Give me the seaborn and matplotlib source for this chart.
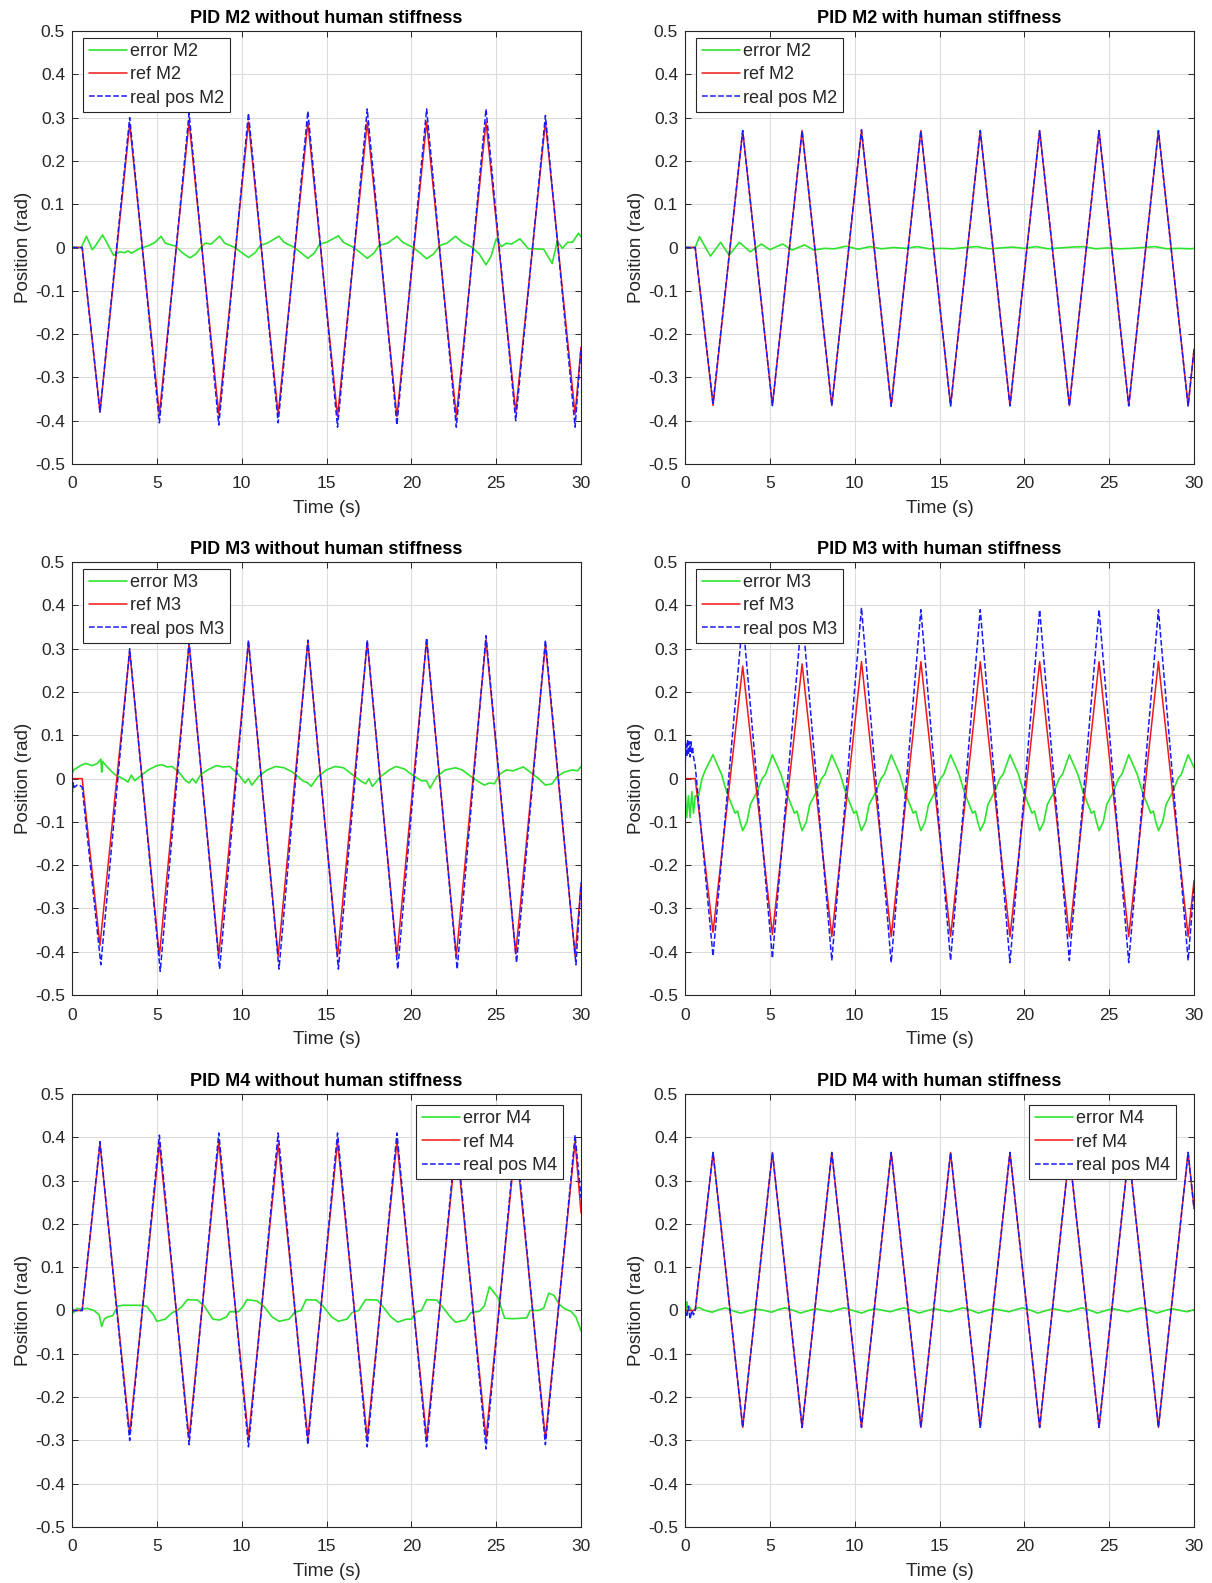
import seaborn as sns
import matplotlib.pyplot as plt

# vertex times of the reference sweep (start, then each trough / peak), shared by all panels
t_ref = [0, 0.6, 1.65, 3.4, 5.15, 6.9, 8.65, 10.4, 12.15, 13.9, 15.65, 17.4,
         19.15, 20.9, 22.65, 24.4, 26.15, 27.9, 29.65, 30]

# ---- M2 without human stiffness
ref_m2_free = [0, 0, -0.38, 0.285, -0.385, 0.29, -0.385, 0.29, -0.385, 0.29, -0.39, 0.29,
               -0.39, 0.29, -0.39, 0.29, -0.38, 0.29, -0.385, -0.23]
real_m2_free = [0, 0, -0.38, 0.30, -0.405, 0.31, -0.41, 0.31, -0.405, 0.315, -0.415, 0.32,
                -0.41, 0.32, -0.415, 0.32, -0.40, 0.305, -0.415, -0.23]
t_err_m2_free = [0, 0.55, 0.85, 1.2, 1.4, 1.8, 2.1, 2.45, 2.8, 3.1, 3.3, 3.5, 4.0, 4.5, 4.9, 5.25,
                 5.5, 6.1, 6.5, 6.95, 7.3, 7.6, 7.85, 8.2, 8.7, 9.0, 9.6, 10.0, 10.4, 10.8, 11.1,
                 11.5, 12.2, 12.5, 13.1, 13.5, 13.9, 14.3, 14.6, 15.0, 15.7, 16.0, 16.6, 17.0,
                 17.4, 17.8, 18.1, 18.6, 19.15, 19.5, 20.1, 20.5, 20.9, 21.3, 21.7, 22.1, 22.6,
                 23.0, 23.6, 24.0, 24.4, 24.7, 25.0, 25.3, 25.6, 25.9, 26.4, 26.9, 27.3, 27.8,
                 28.3, 28.6, 28.9, 29.2, 29.5, 29.85, 30]
err_m2_free = [0, 0, 0.026, -0.005, 0.005, 0.029, 0.008, -0.018, -0.01, -0.012, -0.008, -0.013,
               -0.002, 0.004, 0.012, 0.026, 0.01, 0.003, -0.012, -0.024, -0.015, 0.0, 0.01, 0.008,
               0.026, 0.01, 0.0, -0.012, -0.023, -0.012, 0.005, 0.01, 0.026, 0.012, 0.0, -0.012,
               -0.025, -0.012, 0.008, 0.012, 0.027, 0.012, 0.0, -0.012, -0.025, -0.013, 0.005,
               0.01, 0.026, 0.012, 0.0, -0.012, -0.026, -0.015, 0.005, 0.01, 0.026, 0.012, 0.0,
               -0.015, -0.04, -0.02, 0.02, 0.002, 0.01, 0.008, 0.02, -0.003, -0.003, -0.004,
               -0.037, 0.015, -0.002, 0.012, 0.012, 0.033, 0.025]

# ---- M2 with human stiffness
ref_m2_stiff = [0, 0, -0.365, 0.27, -0.365, 0.27, -0.365, 0.27, -0.365, 0.27, -0.365, 0.27,
                -0.365, 0.27, -0.365, 0.27, -0.365, 0.27, -0.365, -0.235]
real_m2_stiff = [0, 0, -0.36, 0.27, -0.365, 0.27, -0.365, 0.272, -0.367, 0.27, -0.366, 0.27,
                 -0.366, 0.27, -0.366, 0.27, -0.366, 0.27, -0.366, -0.235]
t_err_m2_stiff = [0, 0.6, 0.85, 1.5, 2.1, 2.6, 3.2, 3.85, 4.5, 5.0, 5.75, 6.3, 7.05, 7.6, 8.2,
                  8.8, 9.5, 10.2, 10.9, 11.6, 12.3, 13.0, 13.7, 14.4, 15.1, 15.8, 16.5, 17.2,
                  17.9, 18.6, 19.3, 20.0, 20.7, 21.4, 22.1, 22.8, 23.5, 24.2, 24.9, 25.6, 26.3,
                  27.0, 27.7, 28.4, 29.1, 29.8, 30]
err_m2_stiff = [0, 0, 0.025, -0.02, 0.012, -0.018, 0.012, -0.01, 0.008, -0.005, 0.008, -0.006,
                0.006, -0.006, -0.002, -0.003, 0.003, -0.004, 0.002, -0.003, 0.0, -0.002, 0.002,
                -0.003, -0.002, -0.003, 0.0, 0.002, -0.003, -0.001, 0.001, -0.002, 0.002, -0.003,
                -0.001, 0.001, 0.002, -0.003, -0.001, -0.003, -0.002, 0.0, 0.002, -0.003, -0.002,
                -0.003, -0.002]

# ---- M3 without human stiffness
ref_m3_free = [0, 0, -0.385, 0.295, -0.41, 0.31, -0.41, 0.315, -0.41, 0.315, -0.41, 0.315,
               -0.41, 0.32, -0.41, 0.32, -0.405, 0.31, -0.41, -0.245]
t_real_m3_free = [0, 0.03, 0.08, 0.15, 0.3, 0.45, 0.6, 1.7, 3.4, 5.2, 6.9, 8.7, 10.4, 12.2,
                  13.9, 15.7, 17.4, 19.2, 20.9, 22.7, 24.4, 26.2, 27.9, 29.7, 30]
real_m3_free = [0, -0.03, -0.01, -0.02, -0.015, -0.015, -0.02, -0.43, 0.30, -0.445, 0.315, -0.44,
                0.32, -0.44, 0.32, -0.44, 0.32, -0.44, 0.325, -0.44, 0.33, -0.425, 0.32, -0.43,
                -0.24]
t_err_m3_free = [0, 0.05, 0.1, 0.5, 0.8, 1.2, 1.5, 1.7, 1.75, 1.8, 2.0, 2.5, 3.0, 3.3, 3.5, 3.7,
                 4.0, 4.5, 5.0, 5.3, 5.6, 5.9, 6.3, 6.7, 6.9, 7.1, 7.3, 7.6, 8.0, 8.5, 8.9, 9.3,
                 9.8, 10.2, 10.4, 10.6, 11.0, 11.5, 12.0, 12.5, 13.0, 13.6, 13.9, 14.1, 14.5,
                 15.0, 15.5, 16.0, 16.5, 17.0, 17.3, 17.5, 17.7, 18.2, 18.7, 19.1, 19.6, 20.0,
                 20.6, 20.9, 21.1, 21.5, 22.0, 22.6, 23.0, 23.5, 24.0, 24.3, 24.6, 24.9, 25.2,
                 25.6, 26.0, 26.6, 27.0, 27.5, 27.9, 28.3, 28.6, 29.0, 29.5, 29.8, 30]
err_m3_free = [0.035, 0.015, 0.02, 0.03, 0.035, 0.03, 0.035, 0.045, 0.015, 0.04, 0.03, 0.01, 0.0,
               -0.008, 0.008, -0.005, 0.005, 0.02, 0.03, 0.032, 0.027, 0.028, 0.015, -0.005,
               -0.01, 0.0, -0.01, 0.01, 0.02, 0.03, 0.027, 0.028, 0.01, -0.01, 0.0, -0.015, 0.005,
               0.02, 0.028, 0.025, 0.015, -0.005, -0.01, -0.018, 0.005, 0.02, 0.028, 0.025, 0.01,
               -0.005, -0.012, 0.0, -0.018, 0.005, 0.02, 0.028, 0.022, 0.01, -0.005, -0.005,
               -0.022, 0.005, 0.02, 0.025, 0.02, 0.005, -0.008, -0.015, -0.01, -0.012, 0.01,
               0.02, 0.018, 0.027, 0.015, 0.0, -0.015, -0.012, 0.005, 0.015, 0.02, 0.018, 0.028]

# ---- M3 with human stiffness
ref_m3_stiff = [0, 0, -0.355, 0.26, -0.36, 0.265, -0.365, 0.27, -0.365, 0.27, -0.365, 0.27,
                -0.365, 0.27, -0.365, 0.27, -0.365, 0.27, -0.365, -0.235]
t_real_m3_stiff = [0, 0.05, 0.1, 0.15, 0.2, 0.25, 0.3, 0.35, 0.4, 0.45, 0.5, 0.6, 1.65, 3.4,
                   5.15, 6.9, 8.65, 10.4, 12.15, 13.9, 15.65, 17.4, 19.15, 20.9, 22.65, 24.4,
                   26.15, 27.9, 29.65, 30]
real_m3_stiff = [0.02, 0.08, 0.05, 0.09, 0.055, 0.085, 0.05, 0.085, 0.06, 0.07, 0.05, 0.03,
                 -0.41, 0.37, -0.415, 0.385, -0.42, 0.395, -0.425, 0.39, -0.42, 0.39, -0.425,
                 0.39, -0.42, 0.39, -0.425, 0.39, -0.42, -0.25]
t_err_m3_stiff = [0, 0.05, 0.1, 0.2, 0.3, 0.4, 0.5, 0.6, 0.8, 1.0, 1.2, 1.65]
err_m3_stiff = [0.0, -0.06, -0.09, -0.04, -0.09, -0.03, -0.08, -0.04, -0.04, 0.0, 0.02, 0.055]
# one sweep of the error after the start-up
cycle_dt = [0.5, 0.8, 1.1, 1.3, 1.45, 1.6, 1.75, 2.0, 2.2, 2.6, 2.9, 3.1, 3.5]
cycle_err = [0.01, -0.03, -0.06, -0.08, -0.075, -0.1, -0.12, -0.1, -0.06, -0.03, 0.0, 0.01, 0.055]
cycle_start = [1.65, 5.15, 8.65, 12.15, 15.65, 19.15, 22.65, 26.15]

# ---- M4 without human stiffness
ref_m4_free = [0, 0, 0.385, -0.285, 0.385, -0.295, 0.39, -0.295, 0.385, -0.295, 0.39, -0.295,
               0.39, -0.295, 0.39, -0.295, 0.39, -0.295, 0.39, 0.225]
real_m4_free = [0, 0, 0.39, -0.30, 0.405, -0.31, 0.41, -0.315, 0.41, -0.31, 0.41, -0.315, 0.41,
                -0.315, 0.41, -0.32, 0.41, -0.31, 0.405, 0.26]
t_err_m4_free = [0, 0.1, 0.3, 0.6, 0.9, 1.3, 1.6, 1.75, 1.9, 2.1, 2.4, 2.7, 3.0, 3.5, 4.0, 4.4,
                 4.8, 5.0, 5.5, 5.9, 6.2, 6.5, 6.8, 7.4, 7.8, 8.3, 8.7, 9.1, 9.3, 9.8, 10.1, 10.3,
                 10.9, 11.3, 11.8, 12.2, 12.8, 13.1, 13.5, 13.8, 14.4, 14.8, 15.3, 15.7, 16.2,
                 16.5, 16.9, 17.3, 18.0, 18.3, 18.8, 19.2, 19.7, 20.0, 20.3, 20.6, 20.9, 21.5,
                 21.8, 22.3, 22.6, 23.2, 23.5, 24.0, 24.3, 24.6, 24.9, 25.1, 25.5, 26.0, 26.8,
                 27.0, 27.5, 27.8, 28.1, 28.4, 28.7, 29.0, 29.4, 29.7, 30]
err_m4_free = [0.01, -0.005, 0.005, 0.003, 0.005, 0.0, -0.01, -0.037, -0.02, -0.015, -0.012, 0.01,
               0.012, 0.012, 0.012, 0.01, -0.01, -0.025, -0.02, -0.005, 0.0, 0.01, 0.025, 0.024,
               0.01, -0.02, -0.022, -0.015, -0.003, -0.003, 0.01, 0.025, 0.022, 0.01, -0.015,
               -0.025, -0.02, -0.005, 0.0, 0.025, 0.024, 0.01, -0.015, -0.025, -0.02, -0.005,
               0.0, 0.025, 0.024, 0.01, -0.015, -0.027, -0.02, -0.02, -0.003, 0.0, 0.025, 0.024,
               0.01, -0.015, -0.027, -0.022, -0.005, -0.002, 0.01, 0.055, 0.04, 0.03, -0.018,
               -0.019, -0.017, 0.0, 0.0, 0.005, 0.04, 0.035, 0.015, 0.005, -0.002, -0.015, -0.047]

# ---- M4 with human stiffness
ref_m4_stiff = [0, 0, 0.365, -0.27, 0.365, -0.27, 0.365, -0.27, 0.365, -0.27, 0.365, -0.27,
                0.365, -0.27, 0.365, -0.27, 0.365, -0.27, 0.365, 0.235]
t_real_m4_stiff = [0, 0.1, 0.2, 0.3, 0.4, 0.5, 0.6, 1.65, 3.4, 5.15, 6.9, 8.65, 10.4, 12.15,
                   13.9, 15.65, 17.4, 19.15, 20.9, 22.65, 24.4, 26.15, 27.9, 29.65, 30]
real_m4_stiff = [0, -0.015, 0.01, -0.02, 0.0, -0.01, 0.0, 0.365, -0.27, 0.365, -0.27, 0.365,
                 -0.27, 0.365, -0.27, 0.365, -0.27, 0.365, -0.27, 0.365, -0.27, 0.365, -0.27,
                 0.365, 0.235]
t_err_m4_stiff = [0, 0.05, 0.1, 0.15, 0.25, 0.4, 0.6, 0.8, 1.2, 1.6, 2.0, 2.4, 2.9, 3.3, 3.8,
                  4.2, 4.7, 5.1, 5.5, 5.9, 6.4, 6.8, 7.3, 7.7, 8.2, 8.6, 9.0, 9.4, 9.9, 10.4,
                  10.8, 11.2, 11.7, 12.1, 12.5, 12.9, 13.4, 13.8, 14.3, 14.7, 15.2, 15.6, 16.0,
                  16.4, 16.9, 17.3, 17.8, 18.2, 18.7, 19.1, 19.5, 19.9, 20.4, 20.8, 21.3, 21.7,
                  22.2, 22.6, 23.0, 23.4, 23.9, 24.3, 24.8, 25.2, 25.7, 26.1, 26.5, 26.9, 27.4,
                  27.8, 28.3, 28.7, 29.2, 29.6, 30]
err_m4_stiff = [0.02, -0.005, 0.02, 0.0, 0.01, -0.002, 0.003, 0.007, 0.0, -0.004, 0.002, 0.006,
                -0.002, -0.006, 0.0, 0.003, 0.0, -0.004, 0.002, 0.006, 0.0, -0.006, 0.0, 0.004,
                0.0, -0.003, 0.002, 0.006, 0.0, -0.006, 0.0, 0.004, 0.0, -0.003, 0.002, 0.006,
                0.0, -0.006, 0.0, 0.004, 0.0, -0.003, 0.002, 0.006, 0.0, -0.006, 0.0, 0.004, 0.0,
                -0.003, 0.002, 0.006, 0.0, -0.006, 0.0, 0.004, 0.0, -0.003, 0.002, 0.006, 0.0,
                -0.006, 0.0, 0.004, 0.0, -0.003, 0.002, 0.006, 0.0, -0.006, 0.0, 0.004, 0.0,
                -0.003, 0.002]

x_ticks = [0, 5, 10, 15, 20, 25, 30]
y_ticks = [-0.5, -0.4, -0.3, -0.2, -0.1, 0, 0.1, 0.2, 0.3, 0.4, 0.5]
y_tick_labels = ["-0.5", "-0.4", "-0.3", "-0.2", "-0.1", "0", "0.1", "0.2", "0.3", "0.4", "0.5"]

# the M3 "with stiffness" error repeats every sweep, lay the read cycle out on each start
for c0 in cycle_start:
    for dt, e in zip(cycle_dt, cycle_err):
        if c0 + dt <= 30:
            t_err_m3_stiff.append(round(c0 + dt, 2))
            err_m3_stiff.append(e)
t_err_m3_stiff.append(30)
err_m3_stiff.append(0.025)

sns.set_theme(style="whitegrid")
plt.rcParams["font.family"] = ["Liberation Sans", "DejaVu Sans"]
plt.rcParams["axes.unicode_minus"] = False

GREEN = "#2ee32e"
RED = "#f01818"
BLUE = "#1a1aff"
DARK = "#262626"


def draw_panel(ax, title, motor, t_err, err, ref, t_real, real, loc):
    sns.lineplot(x=t_err, y=err, ax=ax, color=GREEN, lw=1.2, estimator=None, sort=False,
                 label="error " + motor)
    sns.lineplot(x=t_ref, y=ref, ax=ax, color=RED, lw=1.1, estimator=None, sort=False,
                 label="ref " + motor)
    sns.lineplot(x=t_real, y=real, ax=ax, color=BLUE, lw=1.1, linestyle="--", estimator=None,
                 sort=False, label="real pos " + motor)
    ax.set_xlim(0, 30)
    ax.set_ylim(-0.5, 0.5)
    ax.set_xticks(x_ticks)
    ax.set_yticks(y_ticks)
    ax.set_yticklabels(y_tick_labels)
    ax.set_facecolor("white")
    ax.grid(True, color="#dcdcdc", lw=0.8)
    for s in ax.spines.values():
        s.set_color(DARK)
        s.set_linewidth(0.8)
    ax.tick_params(axis="both", direction="in", length=4, width=0.7, colors=DARK,
                   labelsize=12.5, top=True, right=True, left=True, bottom=True)
    ax.tick_params(axis="x", pad=9)
    ax.tick_params(axis="y", pad=5)
    ax.set_title(title, fontsize=13, fontweight="bold", color="black", pad=6)
    ax.set_xlabel("Time (s)", fontsize=13.5, color=DARK, labelpad=6)
    ax.set_ylabel("Position (rad)", fontsize=13.5, color=DARK, labelpad=2)
    # matlab puts "northeast" legends a bit further in than "northwest" ones
    anchor = (0.022, 0.985) if loc == "upper left" else (0.964, 0.975)
    leg = ax.legend(loc=loc, bbox_to_anchor=anchor, fontsize=13, frameon=True, fancybox=False,
                    framealpha=1, edgecolor=DARK, handlelength=2.15, handletextpad=0.15,
                    borderpad=0.3, labelspacing=0.35, borderaxespad=0)
    leg.get_frame().set_linewidth(0.8)


fig = plt.figure(figsize=(12.12, 15.83), dpi=100)
cols = [0.0594, 0.5652]
rows = [0.7069, 0.3714, 0.0354]
w, h = 0.420, 0.2735

panels = [
    ("PID M2 without human stiffness", "M2", t_err_m2_free, err_m2_free, ref_m2_free, t_ref, real_m2_free, "upper left"),
    ("PID M2 with human stiffness", "M2", t_err_m2_stiff, err_m2_stiff, ref_m2_stiff, t_ref, real_m2_stiff, "upper left"),
    ("PID M3 without human stiffness", "M3", t_err_m3_free, err_m3_free, ref_m3_free, t_real_m3_free, real_m3_free, "upper left"),
    ("PID M3 with human stiffness", "M3", t_err_m3_stiff, err_m3_stiff, ref_m3_stiff, t_real_m3_stiff, real_m3_stiff, "upper left"),
    ("PID M4 without human stiffness", "M4", t_err_m4_free, err_m4_free, ref_m4_free, t_ref, real_m4_free, "upper right"),
    ("PID M4 with human stiffness", "M4", t_err_m4_stiff, err_m4_stiff, ref_m4_stiff, t_real_m4_stiff, real_m4_stiff, "upper right"),
]

for i, p in enumerate(panels):
    ax = fig.add_axes([cols[i % 2], rows[i // 2], w, h])
    draw_panel(ax, *p)

plt.savefig("out.png", dpi=100, facecolor="white")
plt.close()
